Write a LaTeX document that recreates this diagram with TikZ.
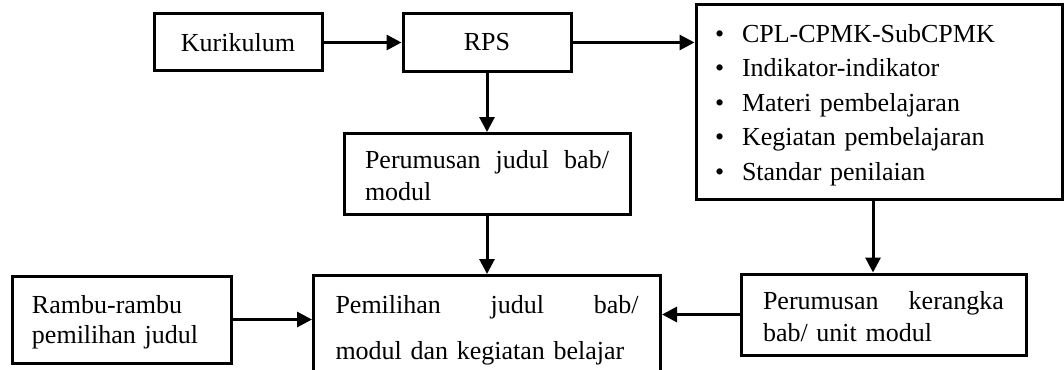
\documentclass[tikz,border=0pt]{standalone}
\usepackage{fontspec}
\setmainfont{Liberation Serif}
\usetikzlibrary{positioning}
\usetikzlibrary{arrows.meta}

\begin{document}
\begin{tikzpicture}[x=0.5pt, y=-0.5pt,
    box/.style={draw, line width=1.5pt, inner sep=0pt, font=\fontsize{13}{16}\selectfont},
    flow/.style={line width=1.5pt, -{Triangle[length=7.5pt, width=7.5pt]}}]

    \useasboundingbox (0,0) rectangle (1064,369);

    \node[box, minimum width=84pt, minimum height=28.5pt] (kur) at (238,42.5) {Kurikulum};
    \node[box, minimum width=84pt, minimum height=29pt, right=39pt of kur] (rps) {RPS};

    \node[box, text width=164pt, inner xsep=9.5pt, minimum height=97pt, align=left,
          font=\fontsize{13}{17.2}\selectfont] (list) at (879,102)
        {\rule{0pt}{12pt}\makebox[13.5pt][l]{\textbullet}CPL-CPMK-SubCPMK\\
         \makebox[13.5pt][l]{\textbullet}Indikator-indikator\\
         \makebox[13.5pt][l]{\textbullet}Materi pembelajaran\\
         \makebox[13.5pt][l]{\textbullet}Kegiatan pembelajaran\\
         \makebox[13.5pt][l]{\textbullet}Standar penilaian};

    \node[box, text width=122pt, inner xsep=10.5pt, minimum height=40.5pt, align=left,
          below=29.5pt of rps] (judul)
        {\rule{0pt}{11pt}\hbox to 122pt{Perumusan\hfil\ judul\hfil\ bab/}\\modul};

    \node[box, text width=151.5pt, inner xsep=11pt, inner ysep=10pt, align=left,
          font=\fontsize{13}{23}\selectfont, below=29pt of judul] (pilih)
        {\hbox to 151.5pt{Pemilihan\hfil\ judul\hfil\ bab/}\\modul dan kegiatan belajar};

    \node[box, text width=89.5pt, inner xsep=10pt, minimum height=43.5pt, align=left,
          font=\fontsize{13}{15}\selectfont] (rambu) at (121.5,319.5)
        {\rule{0pt}{12pt}Rambu-rambu\\pemilihan judul};

    \node[box, text width=120.5pt, inner xsep=11pt, minimum height=40.5pt, align=left] (kerangka) at (883.5,314.5)
        {\rule{0pt}{11pt}\hbox to 120.5pt{Perumusan\hfil\ kerangka}\\bab/ unit modul};

    \draw[flow] (kur.east) -- (rps.west);
    \draw[flow] (rps.east) -- (rps.east -| list.west);
    \draw[flow] (rps.south) -- (judul.north);
    \draw[flow] (judul.south) -- (pilih.north);
    \draw[flow] ([xshift=-3pt]list.south) -- ([xshift=-3pt]list.south |- kerangka.north);
    \draw[flow] (kerangka.west) -- (kerangka.west -| pilih.east);
    \draw[flow] (rambu.east) -- (rambu.east -| pilih.west);

\end{tikzpicture}
\end{document}
